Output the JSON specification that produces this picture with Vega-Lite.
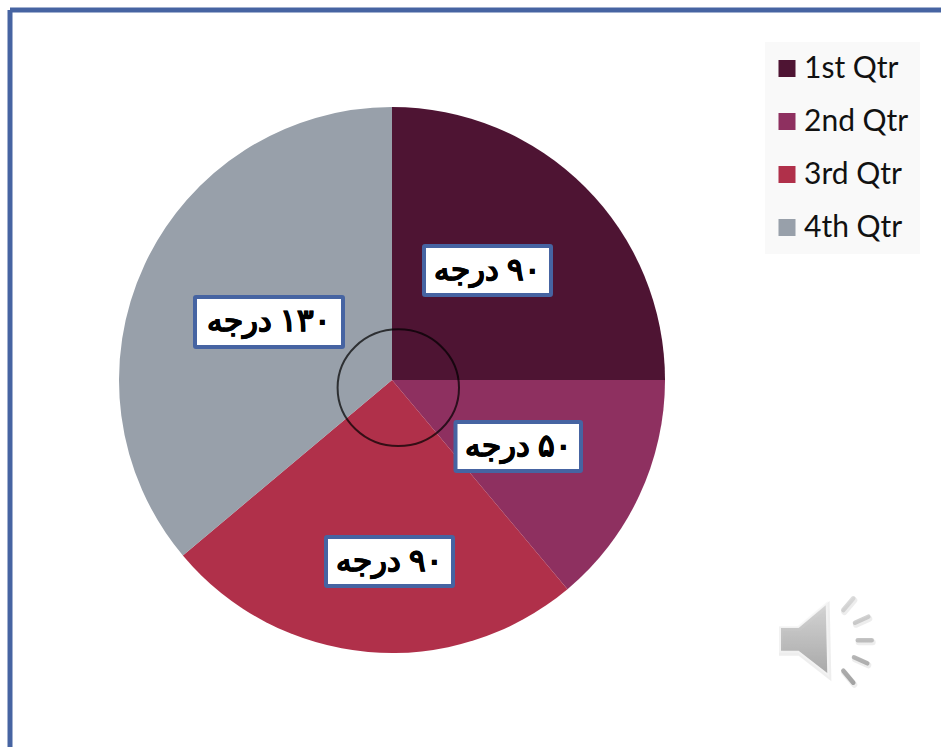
{
"$schema":"https://vega.github.io/schema/vega-lite/v6.json",
"width":941,"height":747,
"autosize":"none",
"padding":0,
"background":"white",
"view":{"stroke":null},
"config":{"axis":{"disable":true}},
"datasets":{
 "slices":[
  {"quarter":"1st Qtr","degrees":90,"idx":1},
  {"quarter":"2nd Qtr","degrees":50,"idx":2},
  {"quarter":"3rd Qtr","degrees":90,"idx":3},
  {"quarter":"4th Qtr","degrees":130,"idx":4}],
 "labels":[
  {"label":"\u200F۹۰ درجه","left":424,"right":551,"top":246,"bottom":295},
  {"label":"\u200F۵۰ درجه","left":455.5,"right":581,"top":422,"bottom":471},
  {"label":"\u200F۹۰ درجه","left":326,"right":453,"top":537,"bottom":586},
  {"label":"\u200F۱۳۰ درجه","left":195,"right":343,"top":297,"bottom":347}],
 "frame":[
  {"a":10,"b":10,"a2":941,"b2":10},
  {"a":10,"b":10,"a2":10,"b2":747}],
 "legendbox":[{"left":765,"right":920,"top":42,"bottom":254}],
 "one":[{"k":1}]
},
"encoding":{
 "x":{"type":"quantitative","scale":{"domain":[0,941],"nice":false,"zero":false},"axis":null},
 "y":{"type":"quantitative","scale":{"domain":[747,0],"nice":false,"zero":false},"axis":null}
},
"layer":[
 {"data":{"name":"frame"},"mark":{"type":"rule","stroke":"#4664A2","strokeWidth":5},
  "encoding":{"x":{"field":"a","type":"quantitative"},"y":{"field":"b","type":"quantitative"},"x2":{"field":"a2"},"y2":{"field":"b2"}}},
 {"data":{"name":"legendbox"},"mark":{"type":"rect","fill":"#F9F9F9"},
  "encoding":{"x":{"field":"left","type":"quantitative"},"x2":{"field":"right"},"y":{"field":"top","type":"quantitative"},"y2":{"field":"bottom"}}},
 {"data":{"name":"one"},"mark":{"type":"point","shape":"circle","filled":true,"fill":"#000","opacity":0.025,"strokeWidth":0,"size":265000},
  "encoding":{"x":{"datum":393},"y":{"datum":384}}},
 {"data":{"name":"one"},"mark":{"type":"point","shape":"circle","filled":true,"fill":"#000","opacity":0.025,"strokeWidth":0,"size":250000},
  "encoding":{"x":{"datum":393},"y":{"datum":382}}},
 {"data":{"name":"slices"},"mark":{"type":"arc","outerRadius":273,"innerRadius":0},
  "encoding":{
   "x":{"datum":392},"y":{"datum":380},
   "theta":{"field":"degrees","type":"quantitative","stack":true},
   "order":{"field":"idx","type":"ordinal"},
   "color":{"field":"quarter","type":"nominal",
    "scale":{"domain":["1st Qtr","2nd Qtr","3rd Qtr","4th Qtr"],"range":["#4E1433","#8E3060","#B0304A","#98A0AA"]},
    "legend":{"title":null,"orient":"none","legendX":772,"legendY":52,"padding":0,
     "symbolType":"square","symbolSize":289,"symbolStrokeWidth":0,"symbolOpacity":1,
     "labelFont":"Lato","labelFontSize":30,"labelColor":"#111","labelOffset":2,"rowPadding":20,"labelLimit":200,"clipHeight":33}}
  }},
 {"data":{"name":"one"},"mark":{"type":"point","filled":false,"stroke":"#000","strokeWidth":2,"size":4,
   "shape":"M-60.7,0 A60.7,58.4 0 1 1 60.7,0 A60.7,58.4 0 1 1 -60.7,0 Z"},
  "encoding":{"x":{"datum":398.3},"y":{"datum":387.7}}},
 {"data":{"name":"labels"},"mark":{"type":"rect","fill":"white","stroke":"#4664A2","strokeWidth":4,"cornerRadius":1},
  "encoding":{"x":{"field":"left","type":"quantitative"},"x2":{"field":"right"},"y":{"field":"top","type":"quantitative"},"y2":{"field":"bottom"}}},
 {"data":{"name":"labels"},
  "transform":[{"calculate":"(datum.left+datum.right)/2","as":"cx"},{"calculate":"(datum.top+datum.bottom)/2","as":"cy"}],
  "mark":{"type":"text","font":"Liberation Serif","fontWeight":"bold","fontSize":31,"fill":"#000","stroke":"#000","strokeWidth":0.5,"align":"center","baseline":"middle"},
  "encoding":{"x":{"field":"cx","type":"quantitative"},"y":{"field":"cy","type":"quantitative"},"text":{"field":"label"}}},
 {"data":{"name":"one"},"mark":{"type":"point","filled":true,"fill":"#DDDDDD","stroke":"#E8E8E8","strokeWidth":4,"size":4,
   "shape":"M-40,-13 L-21.7,-13 L6.7,-36.7 L8.3,35 L-21.7,11.7 L-40,11.7 Z"},
  "encoding":{"x":{"datum":821},"y":{"datum":642}}},
 {"data":{"name":"one"},"mark":{"type":"point","filled":true,"stroke":"#F5F5F5","strokeWidth":2,"size":4,
   "fill":{"gradient":"linear","x1":0,"y1":0,"x2":0,"y2":1,"stops":[{"offset":0,"color":"#CCCCCC"},{"offset":1,"color":"#8E8E8E"}]},
   "shape":"M-40,-13 L-21.7,-13 L6.7,-36.7 L8.3,35 L-21.7,11.7 L-40,11.7 Z"},
  "encoding":{"x":{"datum":820},"y":{"datum":640}}},
 {"data":{"name":"one"},"mark":{"type":"point","filled":false,"strokeWidth":6,"strokeCap":"round","stroke":"#E6E6E6","size":4,
   "shape":"M23.3,-30 L33.3,-41.7 M35,-17.3 L48.3,-23.3 M37.7,0.3 L51.7,0.3 M34,17.3 L47.3,23.3 M23.3,30.7 L33.3,42.7"},
  "encoding":{"x":{"datum":821},"y":{"datum":642}}},
 {"data":{"name":"one"},"mark":{"type":"point","filled":false,"strokeWidth":4.5,"strokeCap":"round","size":4,
   "stroke":{"gradient":"linear","x1":0,"y1":0,"x2":0,"y2":1,"stops":[{"offset":0,"color":"#CFCFCF"},{"offset":1,"color":"#858585"}]},
   "shape":"M23.3,-30 L33.3,-41.7 M35,-17.3 L48.3,-23.3 M37.7,0.3 L51.7,0.3 M34,17.3 L47.3,23.3 M23.3,30.7 L33.3,42.7"},
  "encoding":{"x":{"datum":820},"y":{"datum":640}}}
]
}
